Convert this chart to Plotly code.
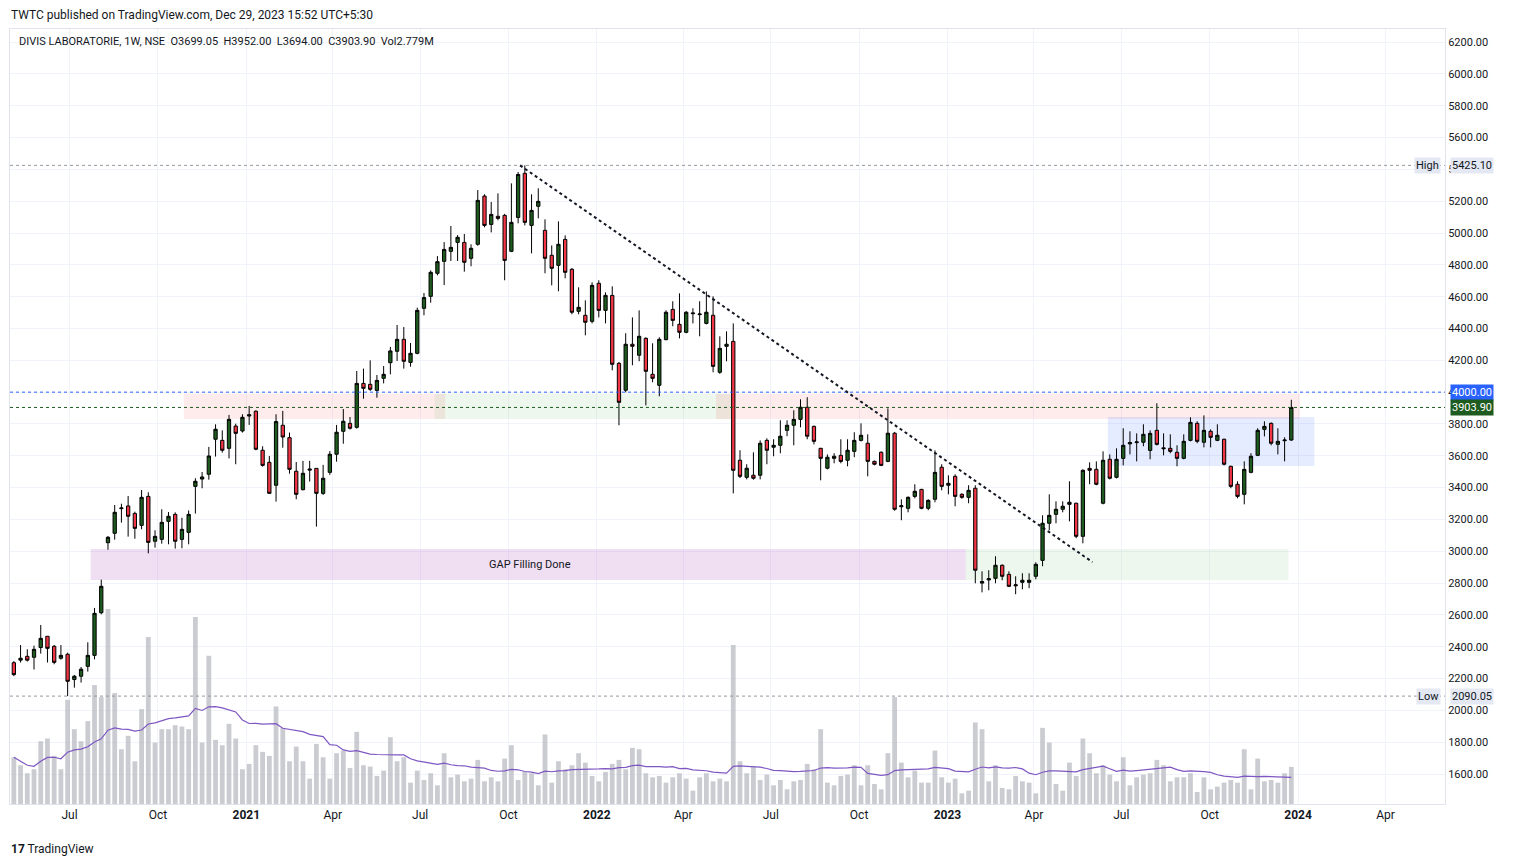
import pandas as pd
import plotly.graph_objects as go

# weekly candles, DIVISLAB (NSE), May 2020 - Dec 2023
opens = [2300, 2316, 2340, 2334, 2395, 2466, 2403, 2328, 2353, 2194,
         2215, 2277, 2346, 2614, 3054, 3113, 3268, 3285, 3238, 3163,
         3345, 3063, 3075, 3188, 3232, 3075, 3119, 3408, 3454, 3484,
         3704, 3697, 3647, 3787, 3756, 3850, 3880, 3635, 3559, 3415,
         3792, 3714, 3503, 3387, 3510, 3521, 3364, 3496, 3610, 3754,
         3804, 3779, 4055, 4049, 4011, 4087, 4185, 4257, 4332, 4187,
         4244, 4527, 4602, 4747, 4822, 4885, 4941, 4941, 4841, 4929,
         5232, 5054, 5105, 5111, 4885, 5098, 5375, 5048, 5168, 5017,
         4860, 4797, 4960, 4772, 4508, 4483, 4445, 4684, 4514, 4608,
         4181, 4012, 4301, 4232, 4338, 4112, 4043, 4330, 4520, 4426,
         4376, 4493, 4487, 4432, 4483, 4125, 4288, 4319, 3572, 3465,
         3478, 3478, 3697, 3654, 3666, 3760, 3792, 3829, 3905, 3785,
         3647, 3522, 3584, 3603, 3572, 3628, 3697, 3679, 3565, 3622,
         3565, 3742, 3280, 3270, 3345, 3389, 3270, 3327, 3528, 3415,
         3471, 3358, 3339, 3396, 2800, 2820, 2830, 2912, 2855, 2783,
         2805, 2805, 2843, 2943, 3176, 3232, 3264, 3295, 3302, 3094,
         3521, 3515, 3302, 3578, 3465, 3584, 3675, 3683, 3685, 3634,
         3760, 3650, 3647, 3622, 3584, 3697, 3804, 3685, 3754, 3697,
         3704, 3534, 3421, 3358, 3496, 3603, 3766, 3804, 3672, 3695, 3699.05]
highs = [2310, 2411, 2384, 2407, 2537, 2466, 2411, 2411, 2363, 2223,
         2273, 2428, 2644, 2822, 3096, 3291, 3299, 3347, 3249, 3385,
         3371, 3132, 3264, 3247, 3245, 3211, 3257, 3459, 3498, 3656,
         3798, 3760, 3857, 3802, 3861, 3913, 3886, 3660, 3599, 3861,
         3882, 3746, 3561, 3568, 3568, 3522, 3543, 3630, 3794, 3894,
         3844, 4133, 4148, 4200, 4108, 4164, 4284, 4422, 4409, 4309,
         4531, 4623, 4765, 4855, 4943, 5044, 4987, 4994, 4929, 5270,
         5243, 5195, 5249, 5120, 5312, 5383, 5425.1, 5243, 5281, 5086,
         4922, 5073, 4985, 4780, 4659, 4577, 4690, 4703, 4627, 4665,
         4190, 4370, 4470, 4514, 4345, 4307, 4345, 4514, 4571, 4621,
         4510, 4527, 4571, 4633, 4602, 4351, 4382, 4432, 3635, 3547,
         3622, 3697, 3710, 3704, 3823, 3823, 3886, 3955, 3968, 3790,
         3650, 3609, 3616, 3704, 3704, 3748, 3804, 3735, 3570, 3628,
         3898, 3750, 3327, 3345, 3421, 3392, 3327, 3634, 3547, 3477,
         3484, 3365, 3415, 3415, 2874, 2881, 2969, 2918, 2874, 2843,
         2862, 2862, 2931, 3226, 3358, 3314, 3314, 3440, 3305, 3515,
         3559, 3565, 3628, 3609, 3647, 3773, 3754, 3741, 3798, 3760,
         3930, 3741, 3735, 3666, 3735, 3842, 3817, 3854, 3766, 3798,
         3708, 3538, 3440, 3565, 3616, 3773, 3817, 3810, 3773, 3716, 3952]
lows = [2215, 2301, 2307, 2257, 2357, 2301, 2290, 2319, 2090.05, 2143,
        2175, 2244, 2321, 2604, 3010, 3073, 3180, 3092, 3079, 3138,
        2987, 3023, 3048, 3044, 3017, 3019, 3044, 3237, 3396, 3450,
        3595, 3620, 3584, 3547, 3746, 3794, 3635, 3532, 3364, 3312,
        3651, 3488, 3327, 3383, 3438, 3155, 3354, 3480, 3563, 3676,
        3765, 3771, 3959, 4007, 3965, 4055, 4112, 4196, 4148, 4160,
        4238, 4483, 4562, 4734, 4673, 4824, 4824, 4757, 4791, 4920,
        5036, 5004, 5080, 4703, 4880, 5061, 5048, 4872, 5092, 4747,
        4671, 4634, 4715, 4489, 4489, 4357, 4432, 4470, 4432, 4137,
        3792, 3999, 4169, 4194, 3917, 4062, 3974, 4326, 4414, 4338,
        4370, 4432, 4351, 4426, 4125, 4115, 4194, 3364, 3460, 3452,
        3450, 3452, 3547, 3597, 3616, 3723, 3666, 3779, 3704, 3672,
        3446, 3515, 3553, 3553, 3534, 3591, 3690, 3471, 3540, 3535,
        3560, 3255, 3195, 3245, 3333, 3264, 3258, 3308, 3383, 3358,
        3283, 3330, 3302, 2799, 2742, 2755, 2799, 2818, 2775, 2730,
        2761, 2768, 2824, 2906, 3132, 3176, 3245, 3188, 3082, 3050,
        3421, 3415, 3295, 3452, 3458, 3540, 3609, 3565, 3660, 3578,
        3665, 3603, 3616, 3534, 3578, 3691, 3679, 3653, 3653, 3692,
        3540, 3396, 3333, 3295, 3490, 3598, 3722, 3666, 3609, 3565, 3694]
closes = [2225, 2328, 2316, 2384, 2453, 2390, 2302, 2346, 2183, 2215,
          2259, 2346, 2610, 2780, 3088, 3245, 3272, 3220, 3144, 3339,
          3056, 3094, 3182, 3220, 3063, 3138, 3232, 3440, 3467, 3599,
          3767, 3635, 3829, 3741, 3842, 3858, 3641, 3540, 3364, 3815,
          3718, 3515, 3358, 3490, 3516, 3364, 3459, 3610, 3748, 3817,
          3773, 4055, 4024, 4018, 4074, 4112, 4259, 4332, 4194, 4244,
          4514, 4594, 4753, 4820, 4897, 4910, 4973, 4816, 4904, 5205,
          5048, 5117, 5092, 4828, 5067, 5368, 5067, 5142, 5199, 4841,
          4778, 4929, 4753, 4502, 4533, 4439, 4671, 4514, 4608, 4175,
          3936, 4301, 4288, 4351, 4131, 4087, 4332, 4502, 4451, 4376,
          4502, 4497, 4491, 4502, 4162, 4275, 4301, 3509, 3471, 3522,
          3459, 3679, 3635, 3666, 3723, 3792, 3829, 3905, 3723, 3691,
          3584, 3591, 3597, 3565, 3635, 3697, 3729, 3565, 3547, 3540,
          3742, 3264, 3286, 3339, 3377, 3270, 3320, 3496, 3408, 3427,
          3345, 3339, 3383, 2881, 2810, 2828, 2912, 2843, 2780, 2789,
          2818, 2818, 2918, 3176, 3226, 3264, 3283, 3308, 3094, 3509,
          3509, 3421, 3572, 3459, 3578, 3666, 3683, 3687, 3735, 3741,
          3672, 3645, 3628, 3584, 3691, 3810, 3691, 3760, 3716, 3729,
          3547, 3408, 3345, 3515, 3597, 3760, 3785, 3679, 3691, 3699, 3903.9]
# weekly volume, millions of shares
volume_m = [3.5, 2.9, 2.3, 2.6, 4.7, 4.9, 3.6, 2.6, 7.8, 5.6,
            4.7, 6.2, 8.9, 8.0, 14.6, 8.3, 4.1, 5.1, 3.2, 7.1,
            12.5, 4.6, 5.6, 5.6, 5.9, 5.8, 5.6, 14.0, 4.6, 11.1,
            4.8, 4.4, 6.0, 4.9, 2.6, 3.0, 4.4, 3.9, 3.6, 7.3,
            5.7, 3.2, 4.3, 3.2, 1.9, 4.5, 3.5, 1.9, 3.8, 4.0,
            2.7, 5.4, 2.9, 2.8, 2.1, 2.5, 5.0, 3.2, 3.5, 1.6,
            2.5, 1.8, 2.3, 1.4, 3.8, 2.0, 2.2, 1.7, 1.9, 3.3,
            1.7, 2.0, 1.7, 3.4, 4.4, 1.8, 2.4, 2.3, 1.4, 5.2,
            1.6, 3.2, 2.6, 2.9, 3.8, 3.1, 2.1, 1.7, 2.4, 3.0,
            3.3, 2.6, 4.2, 4.1, 2.3, 2.0, 2.1, 1.6, 2.0, 2.3,
            1.9, 1.0, 2.0, 2.3, 1.7, 1.9, 1.7, 11.9, 3.2, 2.3,
            2.8, 1.8, 2.2, 1.4, 1.8, 1.1, 1.7, 1.8, 3.0, 2.6,
            5.6, 1.6, 1.4, 2.1, 2.2, 2.9, 1.4, 2.9, 1.5, 1.1,
            3.8, 8.0, 3.1, 2.0, 2.5, 1.6, 1.6, 4.0, 2.0, 1.6,
            1.9, 0.8, 1.0, 6.1, 5.6, 1.7, 2.9, 1.2, 1.1, 2.1,
            1.7, 1.6, 0.8, 5.7, 4.6, 1.5, 1.0, 3.1, 2.1, 4.9,
            3.8, 2.3, 2.9, 2.2, 1.7, 3.5, 1.4, 2.0, 2.2, 2.3,
            3.3, 2.9, 1.7, 2.0, 2.0, 2.3, 0.9, 2.0, 1.1, 1.3,
            1.6, 1.8, 1.6, 4.1, 1.1, 3.4, 1.7, 1.8, 1.6, 2.3, 2.779]

n = min(len(opens), len(highs), len(lows), len(closes), len(volume_m))
weeks = pd.date_range("2020-05-04", periods=n, freq="W-MON")
vol_ma = pd.Series(volume_m[:n]).rolling(20, min_periods=1).mean()

month_ticks = ["2020-07-01", "2020-10-01", "2021-01-01", "2021-04-01", "2021-07-01", "2021-10-01",
               "2022-01-01", "2022-04-01", "2022-07-01", "2022-10-01", "2023-01-01", "2023-04-01",
               "2023-07-01", "2023-10-01", "2024-01-01", "2024-04-01"]
month_text = ["Jul", "Oct", "<b>2021</b>", "Apr", "Jul", "Oct", "<b>2022</b>", "Apr", "Jul", "Oct",
              "<b>2023</b>", "Apr", "Jul", "Oct", "<b>2024</b>", "Apr"]

fig = go.Figure()

fig.add_trace(go.Bar(x=weeks, y=volume_m[:n], yaxis="y2", marker_color="rgba(180,182,190,0.7)",
                     marker_line_width=0, width=5 * 86400000, showlegend=False))
fig.add_trace(go.Scatter(x=weeks, y=vol_ma, yaxis="y2", mode="lines",
                         line=dict(color="#7e57c2", width=1.2), showlegend=False))

# zones
zones = [
    ("2020-10-28", "2021-07-27", 3831, 3990, "rgba(242,54,69,0.10)"),
    ("2021-07-16", "2022-05-24", 3831, 3990, "rgba(76,175,80,0.10)"),
    ("2022-05-05", "2024-01-03", 3831, 3990, "rgba(242,54,69,0.10)"),
    ("2020-07-23", "2023-01-20", 2820, 3014, "rgba(186,104,200,0.22)"),
    ("2023-01-20", "2023-12-22", 2820, 3014, "rgba(76,175,80,0.10)"),
    ("2023-06-17", "2024-01-18", 3536, 3844, "rgba(41,98,255,0.12)"),
]
for x0, x1, y0, y1, c in zones:
    fig.add_shape(type="rect", x0=x0, x1=x1, y0=y0, y1=y1, xref="x", yref="y",
                  fillcolor=c, line_width=0, layer="between")

# reference lines
for lvl, col in [(5425.10, "#9598a1"), (2090.05, "#9598a1"), (4000, "#2962ff"), (3903.90, "#1e5b1e")]:
    fig.add_shape(type="line", xref="paper", x0=0, x1=1, y0=lvl, y1=lvl, yref="y",
                  line=dict(color=col, width=1, dash="dot"))

# trendline
fig.add_shape(type="line", x0="2021-10-13", x1="2023-06-01", y0=5425, y1=2932, xref="x", yref="y",
              line=dict(color="#131722", width=2, dash="dot"))

fig.add_trace(go.Candlestick(
    x=weeks, open=opens[:n], high=highs[:n], low=lows[:n], close=closes[:n],
    increasing=dict(line=dict(color="#000000", width=1), fillcolor="#1e5b1e"),
    decreasing=dict(line=dict(color="#000000", width=1), fillcolor="#f23645"),
    whiskerwidth=0, showlegend=False))

fig.add_annotation(x="2021-10-23", y=2917, text="GAP Filling Done", showarrow=False,
                   font=dict(size=11, color="#131722"))

# price labels on right axis
labels = [(5425.10, "5425.10", "#e3e8f3", "#131722"), (2090.05, "2090.05", "#e3e8f3", "#131722"),
          (4000, "4000.00", "#2962ff", "white"), (3903.90, "3903.90", "#1e5b1e", "white")]
for lvl, txt, bg, fc in labels:
    fig.add_annotation(xref="paper", x=1, y=lvl, yref="y", text=txt, showarrow=False, xanchor="left",
                       xshift=5, bgcolor=bg, font=dict(size=11, color=fc), borderpad=1)
for lvl, txt in [(5425.10, "High"), (2090.05, "Low")]:
    fig.add_annotation(xref="paper", x=1, y=lvl, yref="y", text=txt, showarrow=False, xanchor="right",
                       xshift=-4, bgcolor="#e3e8f3", font=dict(size=11, color="#131722"), borderpad=1)

fig.add_annotation(xref="paper", yref="paper", x=-0.001, y=1.018, xanchor="left", yanchor="middle",
                   text="TWTC published on TradingView.com, Dec 29, 2023 15:52 UTC+5:30",
                   showarrow=False, font=dict(size=12, color="#131722"))
fig.add_annotation(xref="paper", yref="paper", x=0.005, y=0.984, xanchor="left", yanchor="middle",
                   text="DIVIS LABORATORIE, 1W, NSE  O3699.05  H3952.00  L3694.00  C3903.90  Vol2.779M",
                   showarrow=False, font=dict(size=11, color="#131722"))
fig.add_annotation(xref="paper", yref="paper", x=-0.001, y=-0.058, xanchor="left", yanchor="middle",
                   text="<b>17</b> TradingView", showarrow=False, font=dict(size=12, color="#131722"))

# page body adds ~8px offset, so shrink the figure by that much
fig.update_layout(
    width=1513, height=859,
    margin=dict(l=2, r=76, t=21, b=63, autoexpand=False),
    paper_bgcolor="white", plot_bgcolor="white",
    font=dict(family="Roboto, sans-serif", color="#131722", size=11),
    showlegend=False,
    xaxis=dict(range=["2020-04-30", "2024-06-02"], tickvals=month_ticks, ticktext=month_text,
               showgrid=True, gridcolor="#f0f3fa", rangeslider=dict(visible=False),
               showline=True, linecolor="#e0e3eb", mirror=True, ticks="", tickfont=dict(size=12)),
    yaxis=dict(range=[1412, 6282], side="right", dtick=200, tick0=1600, tickformat=".2f",
               showgrid=True, gridcolor="#f0f3fa", showline=True, linecolor="#e0e3eb", mirror=True,
               zeroline=False, tickfont=dict(size=11)),
    yaxis2=dict(range=[0, 58], overlaying="y", visible=False),
)
fig.write_html("out.html")
